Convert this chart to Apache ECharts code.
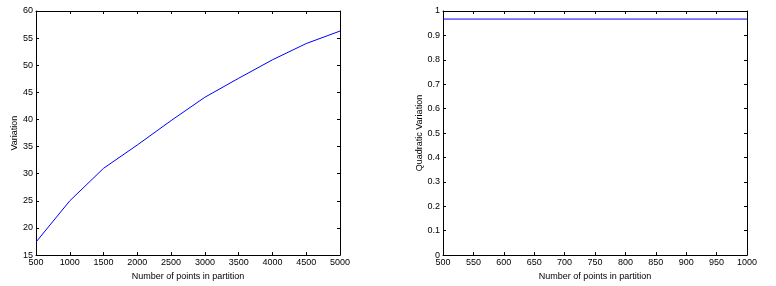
<!DOCTYPE html>
<html>
<head>
<meta charset="utf-8">
<script src="https://cdn.jsdelivr.net/npm/echarts@6/dist/echarts.min.js"></script>
<style>
html,body{margin:0;padding:0;background:#fff;}
#c{width:776px;height:286px;}
</style>
</head>
<body>
<div id="c"></div>
<script>
// Left chart data
const leftX = [500, 1000, 1500, 2000, 2500, 3000, 3500, 4000, 4500, 5000];
const leftY = [17.4, 25.0, 31.0, 35.3, 39.8, 44.1, 47.6, 51.0, 54.0, 56.3];
// Right chart data
const rightX = [500, 1000];
const rightY = [0.967, 0.967];

const xTitle = 'Number of points in partition';
const leftYTitle = 'Variation';
const rightYTitle = 'Quadratic Variation';

const FONT = 'Liberation Sans, Arial, sans-serif';
const chart = echarts.init(document.getElementById('c'), null, {renderer: 'canvas'});

function fmt(v) { return String(Math.round(v * 1000) / 1000); }

function axis(base, extra) {
  return Object.assign({
    type: 'value',
    axisLine: {show: true, onZero: false, lineStyle: {color: '#000', width: 1}},
    axisTick: {show: true, inside: true, length: 3, lineStyle: {color: '#000'}},
    splitLine: {show: false},
    axisLabel: {show: true, color: '#000', fontSize: 9, fontFamily: FONT, margin: 3, formatter: fmt},
    nameTextStyle: {color: '#000', fontSize: 9, fontFamily: FONT}
  }, base, extra || {});
}

const option = {
  animation: false,
  backgroundColor: '#fff',
  grid: [
    {left: 36, top: 11, width: 304, height: 245},
    {left: 443, top: 11, width: 304, height: 245}
  ],
  xAxis: [
    axis({gridIndex: 0, position: 'bottom', min: 500, max: 5000, interval: 500,
      name: xTitle, nameLocation: 'middle', nameGap: 15}),
    axis({gridIndex: 0, position: 'top', min: 500, max: 5000, interval: 500},
      {axisLabel: {show: false}}),
    axis({gridIndex: 1, position: 'bottom', min: 500, max: 1000, interval: 50,
      name: xTitle, nameLocation: 'middle', nameGap: 15}),
    axis({gridIndex: 1, position: 'top', min: 500, max: 1000, interval: 50},
      {axisLabel: {show: false}})
  ],
  yAxis: [
    axis({gridIndex: 0, position: 'left', min: 15, max: 60, interval: 5,
      name: leftYTitle, nameLocation: 'middle', nameGap: 17}),
    axis({gridIndex: 0, position: 'right', min: 15, max: 60, interval: 5},
      {axisLabel: {show: false}}),
    axis({gridIndex: 1, position: 'left', min: 0, max: 1, interval: 0.1,
      name: rightYTitle, nameLocation: 'middle', nameGap: 17}),
    axis({gridIndex: 1, position: 'right', min: 0, max: 1, interval: 0.1},
      {axisLabel: {show: false}})
  ],
  series: [
    {type: 'line', xAxisIndex: 0, yAxisIndex: 0, showSymbol: false, symbol: 'none',
      lineStyle: {color: '#0000ff', width: 1}, itemStyle: {color: '#0000ff'},
      data: leftX.map((x, i) => [x, leftY[i]])},
    {type: 'line', xAxisIndex: 2, yAxisIndex: 2, showSymbol: false, symbol: 'none',
      lineStyle: {color: '#0000ff', width: 1}, itemStyle: {color: '#0000ff'},
      data: rightX.map((x, i) => [x, rightY[i]])}
  ]
};
chart.setOption(option);
</script>
</body>
</html>
